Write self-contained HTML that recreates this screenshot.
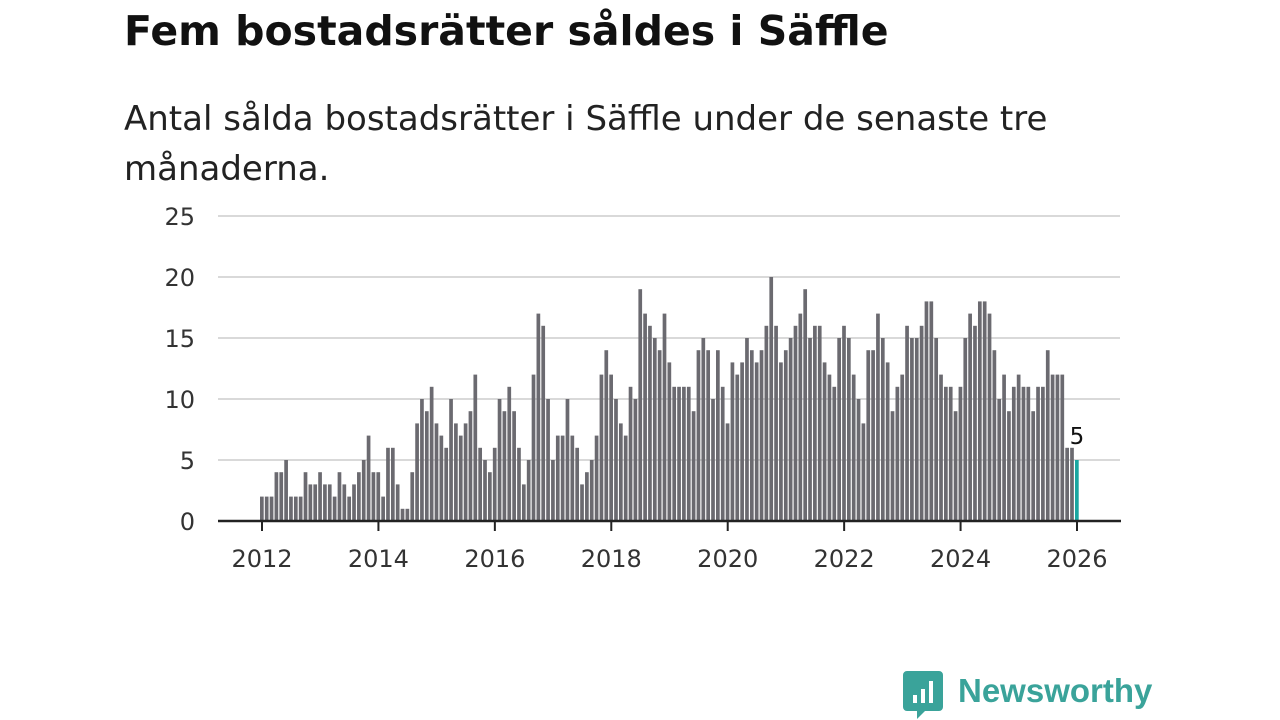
<!DOCTYPE html>
<html><head><meta charset="utf-8"><style>
body{margin:0;width:1280px;height:720px;background:#fff;font-family:"DejaVu Sans",sans-serif;overflow:hidden;position:relative}
.t{position:absolute;left:124px;top:7px;font-size:41px;font-weight:bold;color:#111;margin:0}
.s{position:absolute;left:124px;top:94px;font-size:34px;line-height:50px;color:#222;margin:0;width:1100px}
svg{position:absolute;left:0;top:0}
</style></head><body>
<h1 class="t">Fem bostadsrätter såldes i Säffle</h1>
<p class="s">Antal sålda bostadsrätter i Säffle under de senaste tre<br>månaderna.</p>
<svg id="c" width="1280" height="720"></svg>
<script>
const startYear = 2012;
const yTicks = [0,5,10,15,20,25];
const xTicks = [2012,2014,2016,2018,2020,2022,2024,2026];
const values = [
2,2,2,4,4,5,2,2,2,4,3,3,
4,3,3,2,4,3,2,3,4,5,7,4,
4,2,6,6,3,1,1,4,8,10,9,11,
8,7,6,10,8,7,8,9,12,6,5,4,
6,10,9,11,9,6,3,5,12,17,16,10,
5,7,7,10,7,6,3,4,5,7,12,14,
12,10,8,7,11,10,19,17,16,15,14,17,
13,11,11,11,11,9,14,15,14,10,14,11,
8,13,12,13,15,14,13,14,16,20,16,13,
14,15,16,17,19,15,16,16,13,12,11,15,
16,15,12,10,8,14,14,17,15,13,9,11,
12,16,15,15,16,18,18,15,12,11,11,9,
11,15,17,16,18,18,17,14,10,12,9,11,
12,11,11,9,11,11,14,12,12,12,6,6,
5];
const NS="http://www.w3.org/2000/svg";
const svg=document.getElementById('c');
const x0=262, x1=1077, y0=521, yTop=216;
const xs=i=>x0+(x1-x0)*i/((2026-startYear)*12);
const ys=v=>y0-(y0-yTop)*v/25;
const FF='DejaVu Sans, sans-serif';
function mk(tag,attrs){const e=document.createElementNS(NS,tag);for(const k in attrs)e.setAttribute(k,attrs[k]);svg.appendChild(e);return e;}
yTicks.forEach(v=>{
  if(v>0){const g=mk('line',{x1:218,x2:1120,y1:ys(v),y2:ys(v),stroke:'#d9d9d9','stroke-width':2});
  
  }
  const t=mk('text',{x:195,y:ys(v)+9,'text-anchor':'end','font-size':24,fill:'#333','font-family':FF});
  t.textContent=v;
  
  
});
values.forEach((v,i)=>{
  const last=i===values.length-1;
  const b=mk('rect',{x:xs(i)-2,y:ys(v),width:3.7,height:y0-ys(v),fill:last?'#1aa6a0':'#6b6a70'});
  
  
  if(last){const l=mk('text',{x:xs(i),y:ys(v)-16,'text-anchor':'middle','font-size':23,fill:'#111',stroke:'#fff','stroke-width':4,'paint-order':'stroke','font-family':FF});
  l.textContent=v;
  
  }
});
const ax=mk('line',{x1:218,x2:1121,y1:y0,y2:y0,stroke:'#222','stroke-width':2.5});


xTicks.forEach(yr=>{
  const x=xs((yr-startYear)*12);
  const tk=mk('line',{x1:x,x2:x,y1:y0,y2:y0+10,stroke:'#222','stroke-width':2});
  
  
  const t=mk('text',{x:x,y:567,'text-anchor':'middle','font-size':24,fill:'#333','font-family':FF});
  t.textContent=yr;
  
  
});
</script>
<div style="position:absolute;left:903px;top:671px;display:flex;align-items:center">
<svg width="40" height="48" viewBox="0 0 40 48" style="position:static"><path d="M4 0h32a4 4 0 0 1 4 4v32a4 4 0 0 1-4 4H22l-8 8v-8H4a4 4 0 0 1-4-4V4a4 4 0 0 1 4-4z" fill="#3aa39a"/><rect x="10" y="24" width="4" height="8" fill="#fff"/><rect x="18" y="18" width="4" height="14" fill="#fff"/><rect x="26" y="10" width="4" height="22" fill="#fff"/></svg>
<span style="margin-left:15px;font-size:33px;font-weight:bold;color:#3aa39a;margin-top:-8px;font-family:'Liberation Sans',sans-serif">Newsworthy</span>
</div>
</body></html>
